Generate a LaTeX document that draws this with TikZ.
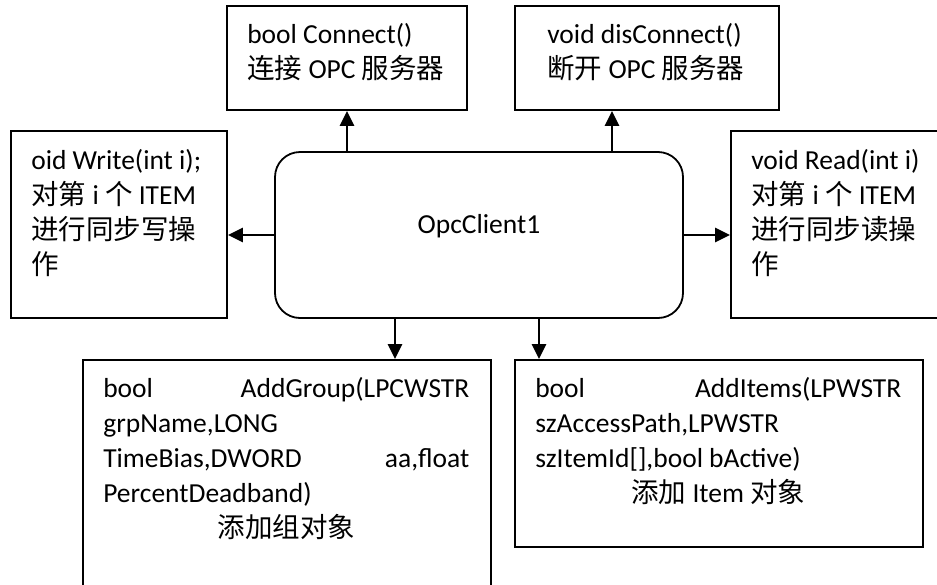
\documentclass[tikz,border=0pt]{standalone}
\usepackage{fontspec}
\setmainfont{Carlito}
\newfontfamily\cjk{Noto Sans CJK SC}
\newcommand{\zh}[1]{{\cjk #1}}
\usepackage{tikz}
\usetikzlibrary{positioning,arrows.meta}

\begin{document}
\begin{tikzpicture}[x=1pt, y=-1pt, font=\fontsize{27.5}{35}\selectfont]
      \tikzstyle{block} = [rectangle, draw, line width=1.8pt, inner sep=0pt]
      \tikzstyle{txt} = [anchor=base west, inner sep=0pt, align=flush left, text width=240pt]
      \tikzstyle{arrow} = [line width=2.4pt, -{Triangle[length=15pt,width=14pt]}]
      \useasboundingbox (0,0) rectangle (937,584);
      \clip (0,0) rectangle (937,584);
      \node[block, rounded corners=25pt, minimum width=408pt, minimum height=166pt, text height=18pt, text depth=22pt] (opc) at (479,235) {OpcClient1};
      \node[block, minimum width=240pt, minimum height=104pt] (conn) at (347,58) {};
      \node[block, minimum width=264pt, minimum height=104pt] (disc) at (647,58) {};
      \node[block, minimum width=216pt, minimum height=187pt] (write) at (119,224.5) {};
      \node[block, minimum width=216pt, minimum height=187pt] (read) at (839,224.5) {};
      \node[block, minimum width=408pt, minimum height=260pt] (grp) at (287,490) {};
      \node[block, minimum width=408pt, minimum height=187pt] (items) at (719,453.5) {};
      \node[txt] (conntxt) at ([shift={(21,38)}]conn.north west) {bool Connect()\\\zh{连接} OPC \zh{服务器}};
      \node[txt] (disctxt) at ([shift={(33,38)}]disc.north west) {void disConnect()\\\zh{断开} OPC \zh{服务器}};
      \node[txt] (writetxt) at ([shift={(21,39)}]write.north west) {oid Write(int i);\\\zh{对第} i \zh{个} ITEM\\\zh{进行同步写操}\\\zh{作}};
      \node[txt] (readtxt) at ([shift={(21,39)}]read.north west) {void Read(int i)\\\zh{对第} i \zh{个} ITEM\\\zh{进行同步读操}\\\zh{作}};
      \node[txt, text width=366pt] (grptxt) at ([shift={(21,38)}]grp.north west) {bool\hfill AddGroup(LPCWSTR\\grpName,LONG\\TimeBias,DWORD\hfill aa,float\\PercentDeadband)\\\mbox{}\hfill\zh{添加组对象}\hfill\mbox{}};
      \node[txt, text width=366pt] (itemstxt) at ([shift={(21,38)}]items.north west) {bool\hfill AddItems(LPWSTR\\szAccessPath,LPWSTR\\szItemId[],bool bActive)\\\mbox{}\hfill\zh{添加} Item \zh{对象}\hfill\mbox{}};
      \draw[arrow] ([xshift=-132pt]opc.north) -- (conn.south);
      \draw[arrow] ([xshift=133pt]opc.north) -- ([xshift=133pt]opc.north |- disc.south);
      \draw[arrow] (opc.west) -- (write.east |- opc.west);
      \draw[arrow] (opc.east) -- (read.west |- opc.east);
      \draw[arrow] ([xshift=-84pt]opc.south) -- ([xshift=-84pt]opc.south |- grp.north);
      \draw[arrow] ([xshift=60pt]opc.south) -- ([xshift=60pt]opc.south |- items.north);
    \end{tikzpicture}
\end{document}
